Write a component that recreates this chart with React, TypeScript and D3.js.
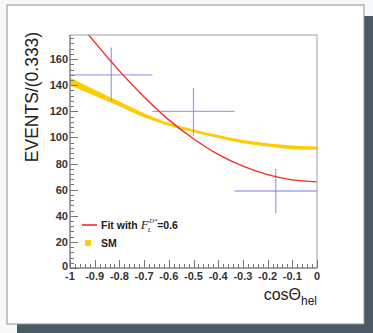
import React, { useEffect, useRef } from 'react';
import * as d3 from 'd3';

// data
const binCenters = [-0.833, -0.5, -0.167];
const binHalfWidth = 0.1667;
const dataValues = [148, 120, 59];
const dataErrLow = [20, 19, 17];
const dataErrHigh = [21, 18, 17];

const fitX = [-0.96, -0.93, -0.9, -0.8, -0.7, -0.6, -0.5, -0.4, -0.3, -0.2, -0.1, 0];
const fitY = [188, 180, 173, 151, 131, 113.5, 99, 87, 78, 71.5, 67.5, 66];

const smX = [-1, -0.9, -0.8, -0.7, -0.6, -0.5, -0.4, -0.3, -0.2, -0.1, 0];
const smLow = [140, 132, 124, 115.5, 109, 104, 99.5, 95.5, 93, 91, 90.5];
const smHigh = [146, 136.5, 127.5, 118.5, 111, 106.2, 101.8, 98, 95.5, 93.8, 93];

const yTicks = [0, 20, 40, 60, 80, 100, 120, 140, 160];
const xTicks = [-1, -0.9, -0.8, -0.7, -0.6, -0.5, -0.4, -0.3, -0.2, -0.1, 0];
const xTickLabels = ['-1', '-0.9', '-0.8', '-0.7', '-0.6', '-0.5', '-0.4', '-0.3', '-0.2', '-0.1', '0'];

const App = () => {
  const svgRef = useRef(null);

  useEffect(() => {
    const svg = d3.select(svgRef.current);
    svg.selectAll('*').remove();

    // page frame
    svg.append('rect').attr('width', 373).attr('height', 333).attr('fill', '#f7f8f9');
    svg.append('rect').attr('x', 17).attr('y', 16).attr('width', 356).attr('height', 317).attr('fill', '#4b5963');
    svg.append('rect').attr('x', 7).attr('y', 5).attr('width', 357).attr('height', 319)
      .attr('fill', '#ffffff').attr('stroke', '#8a9096').attr('stroke-width', 1);

    const left = 70, right = 317, top = 35, bottom = 268;
    const x = d3.scaleLinear().domain([-1, 0]).range([left, right]);
    const y = d3.scaleLinear().domain([0, 178.5]).range([bottom, top]);

    svg.append('defs').append('clipPath').attr('id', 'plotclip')
      .append('rect').attr('x', left).attr('y', top).attr('width', right - left).attr('height', bottom - top);

    const plot = svg.append('g').attr('clip-path', 'url(#plotclip)');

    // SM band
    const area = d3.area()
      .x((d) => x(d[0]))
      .y0((d) => y(d[1]))
      .y1((d) => y(d[2]))
      .curve(d3.curveMonotoneX);
    plot.append('path')
      .datum(smX.map((v, i) => [v, smLow[i], smHigh[i]]))
      .attr('fill', '#ffcc00')
      .attr('d', area);

    // data points
    binCenters.forEach((c, i) => {
      const g = plot.append('g').attr('stroke', '#8c8ce0').attr('stroke-opacity', 0.8).attr('stroke-width', 1.3);
      g.append('line')
        .attr('x1', x(c - binHalfWidth)).attr('x2', x(c + binHalfWidth))
        .attr('y1', y(dataValues[i])).attr('y2', y(dataValues[i]));
      g.append('line')
        .attr('x1', x(c)).attr('x2', x(c))
        .attr('y1', y(dataValues[i] - dataErrLow[i])).attr('y2', y(dataValues[i] + dataErrHigh[i]));
    });

    // fit curve
    const line = d3.line()
      .x((d) => x(d[0]))
      .y((d) => y(d[1]))
      .curve(d3.curveMonotoneX);
    plot.append('path')
      .datum(fitX.map((v, i) => [v, fitY[i]]))
      .attr('fill', 'none')
      .attr('stroke', '#f42a2a')
      .attr('stroke-width', 1.4)
      .attr('d', line);

    // frame
    svg.append('rect').attr('x', left).attr('y', top).attr('width', right - left).attr('height', bottom - top)
      .attr('fill', 'none').attr('stroke', '#a0a0a0').attr('stroke-width', 1);
    svg.append('line').attr('x1', left).attr('x2', left).attr('y1', top).attr('y2', bottom)
      .attr('stroke', '#777').attr('stroke-width', 1);
    svg.append('line').attr('x1', left).attr('x2', right).attr('y1', bottom).attr('y2', bottom)
      .attr('stroke', '#777').attr('stroke-width', 1);

    // ticks (inside, ROOT style)
    const axisG = svg.append('g').attr('stroke', '#777').attr('stroke-width', 1);
    d3.range(0, 178, 4).forEach((v) => {
      const major = v % 20 === 0;
      axisG.append('line')
        .attr('x1', left).attr('x2', left + (major ? 8 : 4))
        .attr('y1', Math.round(y(v)) + 0.5).attr('y2', Math.round(y(v)) + 0.5);
    });
    d3.range(0, 51).forEach((k) => {
      const v = -1 + k * 0.02;
      const major = k % 5 === 0;
      axisG.append('line')
        .attr('x1', Math.round(x(v)) + 0.5).attr('x2', Math.round(x(v)) + 0.5)
        .attr('y1', bottom).attr('y2', bottom - (major ? 8 : 4));
    });

    const font = 'Liberation Sans, Arial, sans-serif';
    yTicks.forEach((v) => {
      svg.append('text')
        .attr('x', left - 2).attr('y', y(v) + 4 - (v === 0 ? 2 : 0))
        .attr('text-anchor', 'end')
        .attr('font-family', font).attr('font-size', 11).attr('font-weight', 'bold').attr('fill', '#333')
        .text(v);
    });
    xTicks.forEach((v, i) => {
      svg.append('text')
        .attr('x', x(v)).attr('y', bottom + 12)
        .attr('text-anchor', 'middle')
        .attr('font-family', font).attr('font-size', 11).attr('font-weight', 'bold').attr('fill', '#333')
        .text(xTickLabels[i]);
    });

    // axis titles
    svg.append('text')
      .attr('transform', 'translate(38,97) rotate(-90)')
      .attr('text-anchor', 'middle')
      .attr('font-family', font).attr('font-size', 17.5).attr('fill', '#222')
      .text('EVENTS/(0.333)');

    const xt = svg.append('text')
      .attr('x', right).attr('y', 300)
      .attr('text-anchor', 'end')
      .attr('font-family', font).attr('font-size', 16).attr('fill', '#222');
    xt.append('tspan').text('cosΘ');
    xt.append('tspan').attr('font-size', 12).attr('dy', 5).text('hel');

    // legend
    svg.append('line').attr('x1', 82).attr('x2', 97).attr('y1', 225).attr('y2', 225)
      .attr('stroke', '#f42a2a').attr('stroke-width', 1.6);
    const serif = 'Liberation Serif, serif';
    const lt = svg.append('text').attr('x', 101).attr('y', 229)
      .attr('font-family', font).attr('font-size', 10.5).attr('font-weight', 'bold').attr('fill', '#222');
    lt.append('tspan').text('Fit with ');
    lt.append('tspan').attr('font-family', serif).attr('font-style', 'italic')
      .attr('font-weight', 'normal').attr('font-size', 13).text('F');
    lt.append('tspan').attr('font-family', serif).attr('font-style', 'italic')
      .attr('font-weight', 'normal').attr('font-size', 6.5).attr('dy', 3).attr('dx', -1).text('L');
    lt.append('tspan').attr('font-family', serif).attr('font-style', 'italic')
      .attr('font-weight', 'normal').attr('font-size', 6.5).attr('dy', -9).attr('dx', -2).text('D*');
    lt.append('tspan').attr('dy', 6).text('=0.6');

    svg.append('rect').attr('x', 85).attr('y', 240).attr('width', 6).attr('height', 6).attr('fill', '#ffcc00');
    svg.append('text').attr('x', 101).attr('y', 247)
      .attr('font-family', font).attr('font-size', 10.5).attr('font-weight', 'bold').attr('fill', '#222')
      .text('SM');
  }, []);

  return (
    <div style={{ position: 'fixed', left: 0, top: 0 }}>
      <svg ref={svgRef} width={373} height={333} style={{ display: 'block' }}></svg>
    </div>
  );
};

export default App;
